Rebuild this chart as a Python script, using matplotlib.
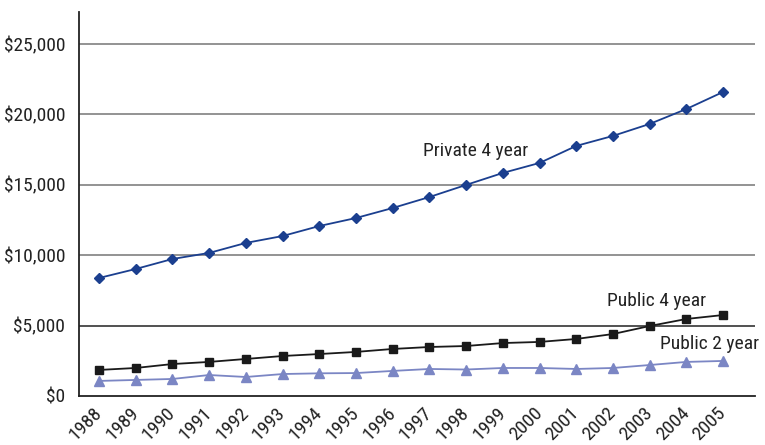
import numpy as np
import matplotlib
matplotlib.use('Agg')
import matplotlib.pyplot as plt

# --- Data (tuition, $)
years = np.arange(1988, 2006)
private4 = [8380, 9020, 9730, 10160, 10870, 11360, 12070, 12640, 13350,
            14130, 14990, 15840, 16550, 17760, 18470, 19320, 20380, 21590]
public4 = [1850, 1990, 2270, 2420, 2630, 2840, 2980, 3130, 3340,
           3480, 3550, 3760, 3840, 4050, 4400, 4970, 5470, 5750]
public2 = [1070, 1140, 1210, 1490, 1350, 1560, 1610, 1630, 1780,
           1920, 1880, 1990, 1990, 1920, 1990, 2200, 2420, 2490]
yticks = [0, 5000, 10000, 15000, 20000, 25000]
ytick_labels = ['$0', '$5,000', '$10,000', '$15,000', '$20,000', '$25,000']

plt.rcParams['font.family'] = ['Roboto Condensed', 'DejaVu Sans']
fs = 14
tc = '#222222'

fig = plt.figure(figsize=(7.65, 4.45), dpi=100)
ax = fig.add_axes([79/765, 49/445, (755-79)/765, (396-12)/445])

c_priv = '#1b3f8f'
c_pub4 = '#1a1a1a'
c_pub2 = '#7b86c4'

ax.plot(years, private4, color=c_priv, marker='D', ms=5.5, lw=1.3)
ax.plot(years, public4, color=c_pub4, marker='s', ms=6, lw=1.3)
ax.plot(years, public2, color=c_pub2, marker='^', ms=7, lw=1.3)

ax.text(1996.83, 17400, 'Private 4 year', fontsize=fs, color=tc, va='center', ha='left')
ax.text(2001.84, 6750, 'Public 4 year', fontsize=fs, color=tc, va='center', ha='left')
ax.text(2003.29, 3690, 'Public 2 year', fontsize=fs, color=tc, va='center', ha='left')

ax.set_xlim(1987.455, 2005.87)
ax.set_ylim(0, 27270)

# horizontal grid lines
for yv in yticks[1:]:
    ax.axhline(yv, color='#333333' if yv == 5000 else '#808080', lw=1.2, zorder=0)

ax.set_yticks(yticks)
ax.set_yticklabels(ytick_labels, fontsize=fs, color=tc)
ax.set_xticks(years)
ax.set_xticklabels([str(y) for y in years], fontsize=fs, color=tc,
                   rotation=45, ha='right', va='center', rotation_mode='anchor')
ax.tick_params(axis='both', length=0)
ax.tick_params(axis='y', pad=10)
ax.tick_params(axis='x', pad=10)

for s in ['top', 'right']:
    ax.spines[s].set_visible(False)
for s in ['left', 'bottom']:
    ax.spines[s].set_color(tc)
    ax.spines[s].set_linewidth(1.3)

fig.savefig('out.png', dpi=100)
